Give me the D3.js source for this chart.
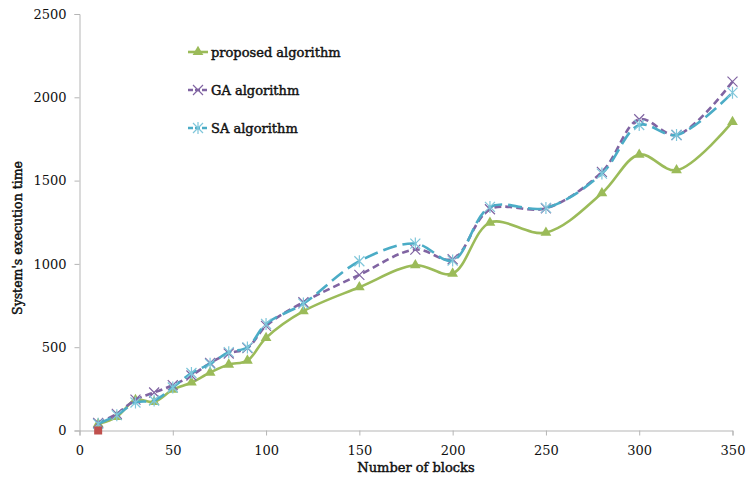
<!DOCTYPE html>
<html>
<head>
<meta charset="utf-8">
<script src="https://cdn.jsdelivr.net/npm/d3@7"></script>
<style>
  body { margin: 0; background: #fff; }
  text { font-family: "DejaVu Serif", serif; fill: #111; }
  .heavy { stroke: #111; stroke-width: 0.45px; }
</style>
</head>
<body>
<div id="chart"></div>
<script>
// chart data
var blocks = [10, 20, 30, 40, 50, 60, 70, 80, 90, 100, 120, 150, 180, 200, 220, 250, 280, 300, 320, 350];
var proposed = [40, 82, 184, 172, 245, 288, 348, 396, 420, 556, 716, 860, 992, 942, 1248, 1188, 1424, 1656, 1562, 1852];
var gaAlg = [45, 100, 185, 228, 272, 330, 405, 462, 495, 628, 770, 934, 1086, 1028, 1328, 1334, 1552, 1868, 1774, 2094];
var saAlg = [40, 92, 168, 180, 258, 345, 400, 470, 498, 640, 762, 1016, 1122, 1020, 1342, 1336, 1542, 1834, 1774, 2028];
var stray = [{x: 10, y: 0}];
var xTicks = [0, 50, 100, 150, 200, 250, 300, 350];
var yTicks = [0, 500, 1000, 1500, 2000, 2500];

var svg = d3.select("#chart")
            .append("svg")
            .attr("width", 747)
            .attr("height", 480);

let x = d3.scaleLinear().domain([0, 350]).range([79.5, 732.5]);
let y = d3.scaleLinear().domain([0, 2500]).range([430.5, 14]);

// axes
let xAxis = svg.append("g")
  .attr("transform", "translate(0,430.5)")
  .call(d3.axisBottom(x).tickValues(xTicks).tickFormat(d3.format("d")).tickSize(5).tickPadding(6));
let yAxis = svg.append("g")
  .attr("transform", "translate(79.5,0)")
  .call(d3.axisLeft(y).tickValues(yTicks).tickFormat(d3.format("d")).tickSize(5).tickPadding(8));

[xAxis, yAxis].forEach(function (a) {
  a.select(".domain").attr("stroke", "#b5b5b5");
  a.selectAll(".tick line").attr("stroke", "#b5b5b5");
  a.selectAll(".tick text")
    .style("font-family", "'DejaVu Serif', serif")
    .style("font-size", "13px")
    .attr("fill", "#111");
});
xAxis.selectAll(".tick text").attr("dy", "1em");

svg.append("text")
  .attr("class", "heavy")
  .attr("x", 416).attr("y", 472)
  .attr("text-anchor", "middle")
  .style("font-size", "13px")
  .text("Number of blocks");

svg.append("text")
  .attr("class", "heavy")
  .attr("transform", "translate(22,238) rotate(-90)")
  .attr("text-anchor", "middle")
  .style("font-size", "12.5px")
  .text("System's execution time");

let series = [
  {name: "proposed algorithm", values: proposed, color: "#9bbb59", dash: null, marker: "tri"},
  {name: "GA algorithm", values: gaAlg, color: "#8064a2", dash: "7,4", marker: "x"},
  {name: "SA algorithm", values: saAlg, color: "#4bacc6", dash: "14,6", marker: "star"}
];

let line = d3.line()
  .x((d) => x(d[0]))
  .y((d) => y(d[1]))
  .curve(d3.curveCatmullRom.alpha(0.5));

function drawMarker(g, type, color) {
  if (type == "tri") {
    g.append("path").attr("d", d3.symbol(d3.symbolTriangle, 50)())
      .attr("fill", color);
  } else if (type == "x") {
    g.append("path").attr("d", "M-5,-5L5,5M-5,5L5,-5")
      .attr("stroke", color).attr("stroke-width", 1.2).attr("fill", "none");
  } else {
    g.append("path").attr("d", "M-5,-5L5,5M-5,5L5,-5M0,-6L0,6")
      .attr("stroke", "#7fc6da").attr("stroke-width", 1.2).attr("fill", "none");
  }
}

series.forEach(function (s) {
  let pts = blocks.map((b, i) => [b, s.values[i]]);
  svg.append("path")
    .attr("d", line(pts))
    .attr("fill", "none")
    .attr("stroke", s.color)
    .attr("stroke-width", 2.6)
    .attr("stroke-dasharray", s.dash);
  pts.forEach(function (p) {
    let g = svg.append("g").attr("transform", "translate(" + x(p[0]) + "," + y(p[1]) + ")");
    drawMarker(g, s.marker, s.color);
  });
});

// lone red square at the origin
svg.selectAll(".stray")
  .data(stray)
  .enter()
  .append("rect")
  .attr("class", "stray")
  .attr("x", (d) => x(d.x) - 4)
  .attr("y", (d) => y(d.y) - 4)
  .attr("width", 8).attr("height", 8)
  .attr("fill", "#c0504d");

// legend
let legend = svg.append("g");
series.forEach(function (s, i) {
  let ly = 52 + i * 38;
  legend.append("line")
    .attr("x1", 188).attr("x2", 208)
    .attr("y1", ly).attr("y2", ly)
    .attr("stroke", s.color).attr("stroke-width", 2.6)
    .attr("stroke-dasharray", s.dash ? "5,2" : null);
  let g = legend.append("g").attr("transform", "translate(198," + ly + ")");
  drawMarker(g, s.marker, s.color);
  legend.append("text")
    .attr("class", "heavy")
    .attr("x", 211).attr("y", ly + 5)
    .style("font-size", "13px")
    .text(s.name);
});
</script>
</body>
</html>
